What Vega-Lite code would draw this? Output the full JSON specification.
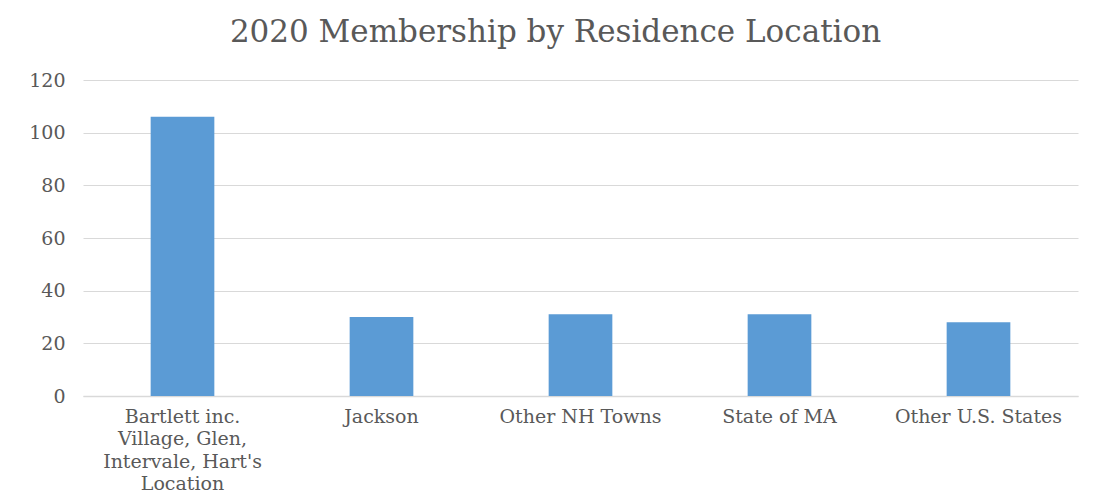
{
  "$schema": "https://vega.github.io/schema/vega-lite/v6.json",
  "width": 995,
  "height": 316,
  "autosize": {"type": "none"},
  "padding": {"left": 83, "top": 80, "right": 16, "bottom": 108},
  "background": "white",
  "title": {
    "text": "2020 Membership by Residence Location",
    "font": "DejaVu Serif",
    "fontSize": 31,
    "fontWeight": "normal",
    "color": "#595959",
    "anchor": "middle",
    "baseline": "alphabetic",
    "offset": -2,
    "dx": -25
  },
  "data": {
    "values": [
      {"location": "Bartlett inc.|Village, Glen,|Intervale, Hart's|Location", "members": 106},
      {"location": "Jackson", "members": 30},
      {"location": "Other NH Towns", "members": 31},
      {"location": "State of MA", "members": 31},
      {"location": "Other U.S. States", "members": 28}
    ]
  },
  "mark": {"type": "bar", "color": "#5b9bd5"},
  "encoding": {
    "x": {
      "field": "location",
      "type": "nominal",
      "sort": null,
      "scale": {"paddingInner": 0.68, "paddingOuter": 0.34},
      "axis": {
        "title": null,
        "labelAngle": 0,
        "labelExpr": "split(datum.label, '|')",
        "labelFont": "DejaVu Serif",
        "labelFontSize": 19,
        "labelColor": "#595959",
        "labelLineHeight": 22.5,
        "labelPadding": 11,
        "labelBaseline": "top",
        "ticks": false,
        "domainColor": "#d9d9d9",
        "domainWidth": 1.5,
        "labelLimit": 300
      }
    },
    "y": {
      "field": "members",
      "type": "quantitative",
      "scale": {"domain": [0, 120]},
      "axis": {
        "title": null,
        "values": [0, 20, 40, 60, 80, 100, 120],
        "labelFont": "DejaVu Serif",
        "labelFontSize": 19,
        "labelColor": "#595959",
        "labelPadding": 18,
        "ticks": false,
        "domain": false,
        "gridColor": "#d9d9d9",
        "gridWidth": 1
      }
    }
  },
  "config": {"view": {"stroke": null}}
}
